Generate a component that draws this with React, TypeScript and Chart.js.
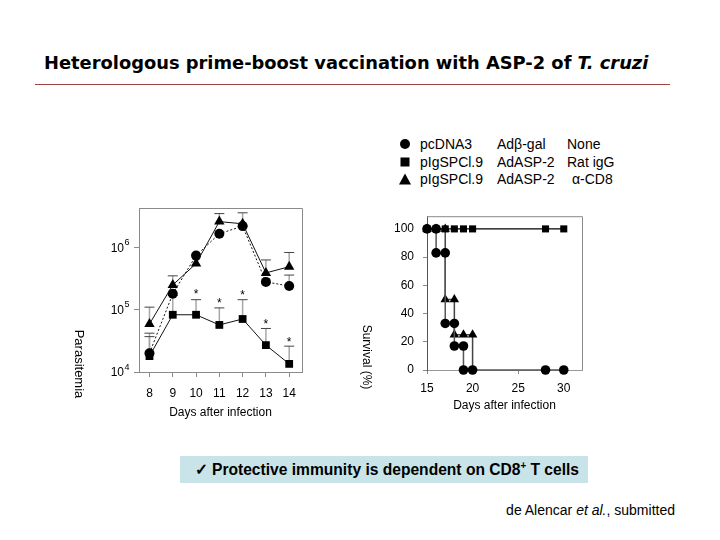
import React, { useEffect, useLayoutEffect, useRef, useState } from "react";
import { Chart, registerables } from "chart.js";

Chart.register(...registerables);

// ---------- Parasitemia (left panel) ----------
const parasitemiaDays = [8, 9, 10, 11, 12, 13, 14];
const parasitemiaPcDNA3 = [2.0e4, 1.8e5, 7.4e5, 1.66e6, 2.2e6, 2.8e5, 2.4e5];
const parasitemiaRatIgG = [1.8e4, 8.3e4, 8.3e4, 5.7e4, 7.1e4, 2.7e4, 1.35e4];
const parasitemiaAntiCD8 = [5.9e4, 2.5e5, 5.5e5, 2.6e6, 2.4e6, 3.9e5, 4.9e5];
const errorUpperPcDNA3 = [4.2e4, null, null, null, null, null, 3.6e5];
const errorUpperRatIgG = [3.7e4, 1.7e5, 1.45e5, 1.07e5, 1.45e5, 5.0e4, 2.6e4];
const errorUpperAntiCD8 = [1.1e5, 3.5e5, null, 3.5e6, 3.6e6, 6.3e5, 8.3e5];
const asteriskDays = [10, 11, 12, 13, 14];
const asteriskLevels = [2.0e5, 1.45e5, 1.95e5, 6.6e4, 3.4e4];
const parasitemiaTickValues = [1e4, 1e5, 1e6];
const parasitemiaTickExponents = ["4", "5", "6"];

// ---------- Survival (right panel) ----------
const survivalDaysPcDNA3 = [15, 16, 16, 17, 17, 18, 18, 19, 19, 20, 28, 30];
const survivalPcDNA3 = [100, 100, 83, 83, 33, 33, 17, 17, 0, 0, 0, 0];
const survivalDaysRatIgG = [15, 16, 17, 18, 19, 20, 28, 30];
const survivalRatIgG = [100, 100, 100, 100, 100, 100, 100, 100];
const survivalDaysAntiCD8 = [15, 16, 17, 17, 18, 18, 19, 20, 20];
const survivalAntiCD8 = [100, 100, 100, 50, 50, 25, 25, 25, 0];
const survivalTicksY = [0, 20, 40, 60, 80, 100];
const survivalTicksX = [15, 20, 25, 30];

// ---------- Legend ----------
const legendPrime = ["pcDNA3", "pIgSPCl.9", "pIgSPCl.9"];
const legendBoost = ["Adβ-gal", "AdASP-2", "AdASP-2"];
const legendTreatment = ["None", "Rat igG", "α-CD8"];
const legendMarkers = ["circle", "square", "triangle"];

const FONT = "'Liberation Sans', Arial, sans-serif";
const FRAME = "#8a8a8a";

function ParasitemiaChart() {
  const ref = useRef<HTMLCanvasElement>(null);
  useEffect(() => {
    if (!ref.current) return;
    const pts = (vals: number[]) => parasitemiaDays.map((d, i) => ({ x: d, y: vals[i] }));
    const errorSets = [
      { means: parasitemiaAntiCD8, uppers: errorUpperAntiCD8 },
      { means: parasitemiaPcDNA3, uppers: errorUpperPcDNA3 },
      { means: parasitemiaRatIgG, uppers: errorUpperRatIgG },
    ];
    const extras = {
      id: "parasitemiaExtras",
      beforeDatasetsDraw(chart: any) {
        const { ctx, scales } = chart;
        const x = scales.x, y = scales.y;
        ctx.save();
        errorSets.forEach(({ means, uppers }) => {
          parasitemiaDays.forEach((d, i) => {
            const up = uppers[i];
            if (up == null) return;
            const px = x.getPixelForValue(d);
            const py = y.getPixelForValue(means[i]);
            const pu = y.getPixelForValue(up);
            ctx.strokeStyle = "#a8a8a8";
            ctx.lineWidth = 1.5;
            ctx.beginPath();
            ctx.moveTo(px, py);
            ctx.lineTo(px, pu);
            ctx.stroke();
            ctx.strokeStyle = "#444";
            ctx.lineWidth = 1;
            ctx.beginPath();
            ctx.moveTo(px - 5, pu);
            ctx.lineTo(px + 5, pu);
            ctx.stroke();
          });
        });
        ctx.restore();
      },
      afterDraw(chart: any) {
        const { ctx, chartArea, scales } = chart;
        const x = scales.x, y = scales.y;
        ctx.save();
        ctx.strokeStyle = FRAME;
        ctx.lineWidth = 1;
        ctx.beginPath();
        ctx.moveTo(chartArea.left, chartArea.top + 0.5);
        ctx.lineTo(chartArea.right + 0.5, chartArea.top + 0.5);
        ctx.lineTo(chartArea.right + 0.5, chartArea.bottom);
        ctx.stroke();
        ctx.fillStyle = "#000";
        parasitemiaTickValues.forEach((v, i) => {
          const py = y.getPixelForValue(v);
          ctx.font = `12px ${FONT}`;
          ctx.textAlign = "right";
          ctx.textBaseline = "middle";
          ctx.fillText("10", chartArea.left - 15, py + 1);
          ctx.font = `9px ${FONT}`;
          ctx.textAlign = "left";
          ctx.textBaseline = "alphabetic";
          ctx.fillText(parasitemiaTickExponents[i], chartArea.left - 14.5, py - 2.5);
        });
        ctx.font = `12px ${FONT}`;
        ctx.textAlign = "center";
        ctx.textBaseline = "alphabetic";
        asteriskDays.forEach((d, i) => {
          const px = x.getPixelForValue(d);
          const py = y.getPixelForValue(asteriskLevels[i]);
          ctx.fillText("*", px, py + 7);
        });
        ctx.font = `12px ${FONT}`;
        ctx.textBaseline = "middle";
        ctx.fillText("Days after infection", (chartArea.left + chartArea.right) / 2, chartArea.bottom + 41);
        ctx.translate(chartArea.left - 60, chartArea.bottom - 8);
        ctx.rotate(Math.PI / 2);
        ctx.font = `13px ${FONT}`;
        ctx.fillText("Parasitemia", 0, 0);
        ctx.restore();
      },
    };
    const chart = new Chart(ref.current, {
      type: "scatter",
      data: {
        datasets: [
          {
            label: "pIgSPCl.9 / AdASP-2 / α-CD8",
            data: pts(parasitemiaAntiCD8),
            showLine: true,
            borderColor: "#111",
            borderWidth: 1,
            pointStyle: "triangle",
            pointRadius: 6,
            pointBackgroundColor: "#000",
            pointBorderColor: "#000",
            pointBorderWidth: 0,
            clip: false,
          },
          {
            label: "pcDNA3 / Adβ-gal / None",
            data: pts(parasitemiaPcDNA3),
            showLine: true,
            borderColor: "#111",
            borderWidth: 1,
            borderDash: [2, 2],
            pointStyle: "circle",
            pointRadius: 5,
            pointBackgroundColor: "#000",
            pointBorderColor: "#000",
            pointBorderWidth: 0,
            clip: false,
          },
          {
            label: "pIgSPCl.9 / AdASP-2 / Rat igG",
            data: pts(parasitemiaRatIgG),
            showLine: true,
            borderColor: "#111",
            borderWidth: 1,
            pointStyle: "rect",
            pointRadius: 5.5,
            pointBackgroundColor: "#000",
            pointBorderColor: "#000",
            pointBorderWidth: 0,
            clip: false,
          },
        ],
      } as any,
      options: {
        responsive: false,
        animation: false,
        layout: { padding: { top: 13, right: 18, left: 0, bottom: 0 } },
        plugins: { legend: { display: false }, tooltip: { enabled: false } },
        scales: {
          x: {
            type: "linear",
            min: 7.55,
            max: 14.55,
            afterBuildTicks: (a: any) => {
              a.ticks = parasitemiaDays.map((v) => ({ value: v }));
            },
            afterFit: (s: any) => {
              s.height = 63;
            },
            grid: { drawOnChartArea: false, drawTicks: true, tickLength: 5, color: FRAME },
            border: { color: FRAME },
            ticks: { font: { family: FONT, size: 12 }, color: "#000", padding: 9, maxRotation: 0, autoSkip: false },
          },
          y: {
            type: "logarithmic",
            min: 1e4,
            max: 4.3e6,
            afterBuildTicks: (a: any) => {
              a.ticks = parasitemiaTickValues.map((v) => ({ value: v }));
            },
            afterFit: (s: any) => {
              s.width = 79;
            },
            grid: { drawOnChartArea: false, drawTicks: true, tickLength: 5, color: FRAME },
            border: { color: FRAME },
            ticks: { display: false },
          },
        },
      } as any,
      plugins: [extras],
    });
    return () => chart.destroy();
  }, []);
  return (
    <canvas
      ref={ref}
      width={260}
      height={240}
      style={{ position: "absolute", left: 60, top: 195, width: 260, height: 240 }}
    />
  );
}

function SurvivalChart() {
  const ref = useRef<HTMLCanvasElement>(null);
  useEffect(() => {
    if (!ref.current) return;
    const pts = (xs: number[], ys: number[]) => xs.map((d, i) => ({ x: d, y: ys[i] }));
    const extras = {
      id: "survivalExtras",
      afterDraw(chart: any) {
        const { ctx, chartArea } = chart;
        ctx.save();
        ctx.strokeStyle = FRAME;
        ctx.lineWidth = 1;
        ctx.beginPath();
        ctx.moveTo(chartArea.left, chartArea.top + 0.5);
        ctx.lineTo(chartArea.right + 0.5, chartArea.top + 0.5);
        ctx.lineTo(chartArea.right + 0.5, chartArea.bottom);
        ctx.stroke();
        ctx.fillStyle = "#000";
        ctx.textAlign = "center";
        ctx.textBaseline = "middle";
        ctx.font = `12px ${FONT}`;
        ctx.fillText("Days after infection", (chartArea.left + chartArea.right) / 2, chartArea.bottom + 36);
        ctx.translate(chartArea.left - 61, chartArea.bottom - 13);
        ctx.rotate(Math.PI / 2);
        ctx.fillText("Survival (%)", 0, 0);
        ctx.restore();
      },
    };
    const chart = new Chart(ref.current, {
      type: "scatter",
      data: {
        datasets: [
          {
            label: "pIgSPCl.9 / AdASP-2 / Rat igG",
            data: pts(survivalDaysRatIgG, survivalRatIgG),
            showLine: true,
            borderColor: "#000",
            borderWidth: 1.2,
            pointStyle: "rect",
            pointRadius: 5,
            pointBackgroundColor: "#000",
            pointBorderWidth: 0,
            clip: false,
            order: 0,
          },
          {
            label: "pcDNA3 / Adβ-gal / None",
            data: pts(survivalDaysPcDNA3, survivalPcDNA3),
            showLine: true,
            borderColor: "#555",
            borderWidth: 1.5,
            pointStyle: "circle",
            pointRadius: 4.8,
            pointBackgroundColor: "#000",
            pointBorderWidth: 0,
            clip: false,
            order: 1,
          },
          {
            label: "pIgSPCl.9 / AdASP-2 / α-CD8",
            data: pts(survivalDaysAntiCD8, survivalAntiCD8),
            showLine: true,
            borderColor: "#444",
            borderWidth: 1.5,
            pointStyle: "triangle",
            pointRadius: survivalAntiCD8.map((v) => (v === 0 ? 0 : 5.5)),
            pointBackgroundColor: "#000",
            pointBorderWidth: 0,
            clip: false,
            order: 2,
          },
        ],
      } as any,
      options: {
        responsive: false,
        animation: false,
        layout: { padding: { top: 13, right: 18, left: 0, bottom: 0 } },
        plugins: { legend: { display: false }, tooltip: { enabled: false } },
        scales: {
          x: {
            type: "linear",
            min: 15,
            max: 32,
            afterBuildTicks: (a: any) => {
              a.ticks = survivalTicksX.map((v) => ({ value: v }));
            },
            afterFit: (s: any) => {
              s.height = 55;
            },
            grid: { drawOnChartArea: false, drawTicks: true, tickLength: 4, color: FRAME },
            border: { color: "#999" },
            ticks: { font: { family: FONT, size: 12 }, color: "#000", padding: 7, maxRotation: 0, autoSkip: false },
          },
          y: {
            type: "linear",
            min: 0,
            max: 109,
            afterBuildTicks: (a: any) => {
              a.ticks = survivalTicksY.map((v) => ({ value: v }));
            },
            afterFit: (s: any) => {
              s.width = 77;
            },
            grid: { drawOnChartArea: false, drawTicks: true, tickLength: 4, color: FRAME },
            border: { color: "#555" },
            ticks: { font: { family: FONT, size: 12 }, color: "#000", padding: 9 },
          },
        },
      } as any,
      plugins: [extras],
    });
    return () => chart.destroy();
  }, []);
  return (
    <canvas
      ref={ref}
      width={250}
      height={225}
      style={{ position: "absolute", left: 350, top: 200, width: 250, height: 225 }}
    />
  );
}

function FitText({ width, style, children }: any) {
  const ref = useRef<HTMLSpanElement>(null);
  const [scale, setScale] = useState(1);
  useLayoutEffect(() => {
    if (ref.current) {
      const w = ref.current.scrollWidth;
      if (w > 0) setScale(width / w);
    }
  }, [width]);
  return (
    <span
      ref={ref}
      style={{
        ...style,
        display: "inline-block",
        whiteSpace: "nowrap",
        transform: `scaleX(${scale})`,
        transformOrigin: "left center",
      }}
    >
      {children}
    </span>
  );
}

function Marker({ kind }: { kind: string }) {
  if (kind === "circle")
    return (
      <svg width="14" height="14" style={{ display: "block" }}>
        <circle cx="7" cy="7" r="5" fill="#000" />
      </svg>
    );
  if (kind === "square")
    return (
      <svg width="14" height="14" style={{ display: "block" }}>
        <rect x="2.5" y="2.5" width="9" height="9" fill="#000" />
      </svg>
    );
  return (
    <svg width="14" height="14" style={{ display: "block" }}>
      <polygon points="7,1.5 13,12.5 1,12.5" fill="#000" />
    </svg>
  );
}

export default function App() {
  const rowY = [144, 161.5, 179];
  return (
    <div
      style={{
        position: "absolute",
        left: 0,
        top: 0,
        width: 720,
        height: 540,
        background: "#fff",
        overflow: "hidden",
        fontFamily: FONT,
        color: "#000",
      }}
    >
      <div style={{ position: "absolute", left: 44, top: 52, height: 22, lineHeight: "22px" }}>
        <FitText
          width={604}
          style={{ fontFamily: "'DejaVu Sans', sans-serif", fontWeight: "bold", fontSize: 18 }}
        >
          Heterologous prime-boost vaccination with ASP-2 of <i>T. cruzi</i>
        </FitText>
      </div>
      <div style={{ position: "absolute", left: 35, top: 84, width: 635, height: 1, background: "#a04444" }} />

      {legendMarkers.map((m, i) => (
        <React.Fragment key={m}>
          <div style={{ position: "absolute", left: 398, top: rowY[i] - 7 }}>
            <Marker kind={m} />
          </div>
          <div style={{ position: "absolute", left: 420, top: rowY[i] - 9, fontSize: 14, lineHeight: "18px" }}>
            {legendPrime[i]}
          </div>
          <div style={{ position: "absolute", left: 497, top: rowY[i] - 9, fontSize: 14, lineHeight: "18px" }}>
            {legendBoost[i]}
          </div>
          <div
            style={{
              position: "absolute",
              left: i === 2 ? 572 : 567,
              top: rowY[i] - 9,
              fontSize: 14,
              lineHeight: "18px",
            }}
          >
            {legendTreatment[i]}
          </div>
        </React.Fragment>
      ))}

      <ParasitemiaChart />
      <SurvivalChart />

      <div
        style={{
          position: "absolute",
          left: 180,
          top: 456,
          width: 408,
          height: 27,
          background: "#c8e4e8",
        }}
      />
      <div
        style={{
          position: "absolute",
          left: 195,
          top: 456,
          height: 27,
          lineHeight: "27px",
          whiteSpace: "nowrap",
        }}
      >
        <FitText width={384} style={{ fontSize: 16, fontWeight: "bold", fontFamily: FONT }}>
          ✓ Protective immunity is dependent on CD8
          <sup style={{ fontSize: 10, lineHeight: 0 }}>+</sup> T cells
        </FitText>
      </div>

      <div
        style={{
          position: "absolute",
          right: 720 - 675,
          top: 501,
          fontSize: 14,
          lineHeight: "18px",
          whiteSpace: "nowrap",
        }}
      >
        de Alencar <i>et al.</i>, submitted
      </div>
    </div>
  );
}
